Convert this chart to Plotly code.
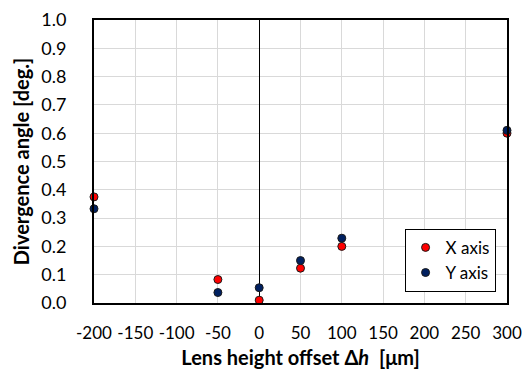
import plotly.graph_objects as go

offsets = [-200, -50, 0, 50, 100, 300]
x_axis_vals = [0.375, 0.083, 0.010, 0.123, 0.200, 0.600]
y_axis_vals = [0.333, 0.037, 0.054, 0.150, 0.229, 0.610]
series_names = ["X axis", "Y axis"]
series_colors = ["#FF0000", "#002060"]
x_ticks = [-200, -150, -100, -50, 0, 50, 100, 150, 200, 250, 300]
x_tick_labels = ["-200", "-150", "-100", "-50", "0", "50", "100", "150", "200", "250", "300"]

FONT = "Lato"

fig = go.Figure()
for name, vals, col in zip(series_names, [x_axis_vals, y_axis_vals], series_colors):
    fig.add_trace(go.Scatter(
        x=offsets, y=vals, mode="markers", name=name,
        marker=dict(size=8, color=col, line=dict(color="#1a1a1a", width=1)),
        cliponaxis=False,
    ))

fig.update_layout(
    width=531, height=371,
    margin=dict(l=94, r=24, t=20, b=68),
    paper_bgcolor="white", plot_bgcolor="white",
    font=dict(family=FONT, size=17, color="black"),
    showlegend=True,
    legend=dict(
        x=0.752, y=0.262, xanchor="left", yanchor="top",
        bordercolor="black", borderwidth=1, bgcolor="white",
        font=dict(family=FONT, size=17, color="black"),
        itemwidth=30, tracegroupgap=0,
    ),
)
fig.update_xaxes(
    range=[-200, 300], tickmode="array", tickvals=x_ticks, ticktext=x_tick_labels,
    tickangle=0, tickfont=dict(size=17), automargin=False,
    showgrid=True, gridcolor="#d9d9d9", gridwidth=1,
    zeroline=True, zerolinecolor="black", zerolinewidth=1,
    showline=True, linecolor="black", linewidth=2, mirror=True,
    ticks="outside", ticklen=14, tickcolor="rgba(0,0,0,0)",
    title=dict(text="<b>Lens height offset Δ<i>h</i>  [μm]</b>", font=dict(family=FONT, size=20), standoff=9),
)
fig.update_yaxes(
    range=[0, 1.0], tickmode="linear", tick0=0, dtick=0.1, tickformat=".1f",
    tickfont=dict(size=18), automargin=False,
    showgrid=True, gridcolor="#d9d9d9", gridwidth=1,
    zeroline=False,
    showline=True, linecolor="black", linewidth=2, mirror=True,
    ticks="outside", ticklen=22, tickcolor="rgba(0,0,0,0)",
    title=dict(text="<b>Divergence angle [deg.]</b>", font=dict(family=FONT, size=20), standoff=6),
)

fig.write_html("out.html")
